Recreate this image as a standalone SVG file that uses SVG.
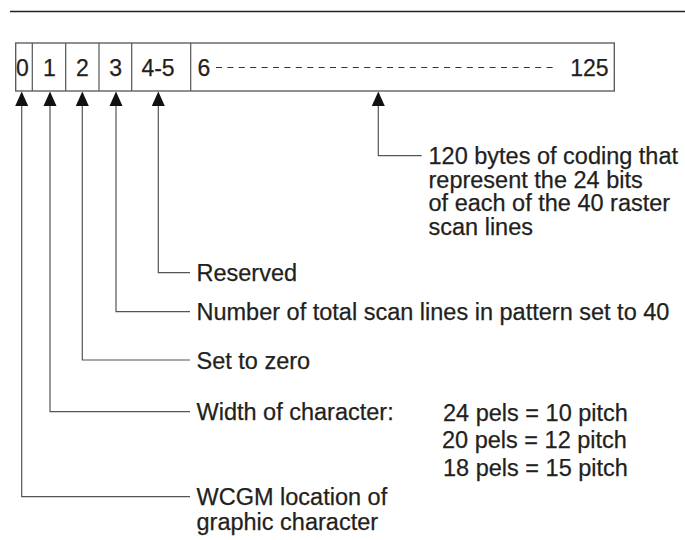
<svg xmlns="http://www.w3.org/2000/svg" width="685" height="540" viewBox="0 0 685 540">
<defs>
<style>
.t{font-family:"Liberation Sans",Arial,Helvetica,sans-serif;font-size:23.5px;fill:#231f20;stroke:#231f20;stroke-width:0.25}
.b{font-family:"Liberation Sans",Arial,Helvetica,sans-serif;font-size:23px;fill:#231f20;stroke:#231f20;stroke-width:0.25}
.c{fill:none;stroke:#555;stroke-width:1.2}
.box{fill:#fff;stroke:#555;stroke-width:1.3}
.ah{fill:#111}
</style>
</defs>
<rect width="685" height="540" fill="#fff"/>
<line x1="10" y1="11.5" x2="685" y2="11.5" stroke="#222" stroke-width="1.6"/>
<g id="record">
<rect class="box" x="15.7" y="43" width="598.6" height="48"/>
<line class="c" x1="32.3" y1="43" x2="32.3" y2="91"/>
<line class="c" x1="65.7" y1="43" x2="65.7" y2="91"/>
<line class="c" x1="99" y1="43" x2="99" y2="91"/>
<line class="c" x1="131.7" y1="43" x2="131.7" y2="91"/>
<line class="c" x1="190.7" y1="43" x2="190.7" y2="91"/>
<text class="b" x="22.5" y="75.5" text-anchor="middle">0</text>
<text class="b" x="49.3" y="75.5" text-anchor="middle">1</text>
<text class="b" x="82.3" y="75.5" text-anchor="middle">2</text>
<text class="b" x="115.7" y="75.5" text-anchor="middle">3</text>
<text class="b" x="158" y="75.5" text-anchor="middle">4-5</text>
<text class="b" x="197.5" y="75.5">6</text>
<line x1="216" y1="67.5" x2="557" y2="67.5" stroke="#333" stroke-width="1.2" stroke-dasharray="6,5.4"/>
<text class="b" x="608.5" y="75.5" text-anchor="end">125</text>
</g>
<g id="connectors">
<path class="c" d="M378.3,106 V155.7 H421.7"/>
<path class="c" d="M158.3,106 V272.7 H190"/>
<path class="c" d="M116,106 V311.7 H190"/>
<path class="c" d="M82.3,106 V360 H190"/>
<path class="c" d="M50,106 V411.7 H190"/>
<path class="c" d="M21.7,106 V496.7 H190"/>
<polygon class="ah" points="378.3,91.5 384.8,106 371.8,106"/>
<polygon class="ah" points="158.3,91.5 164.8,106 151.8,106"/>
<polygon class="ah" points="116,91.5 122.5,106 109.5,106"/>
<polygon class="ah" points="82.3,91.5 88.8,106 75.8,106"/>
<polygon class="ah" points="50,91.5 56.5,106 43.5,106"/>
<polygon class="ah" points="21.7,91.5 28.2,106 15.2,106"/>
</g>
<g id="label-coding">
<text class="t" x="428.5" y="164">120 bytes of coding that</text>
<text class="t" x="428.5" y="187.5">represent the 24 bits</text>
<text class="t" x="428.5" y="211">of each of the 40 raster</text>
<text class="t" x="428.5" y="234.5">scan lines</text>
</g>
<g id="label-reserved">
<text class="t" x="196.5" y="281">Reserved</text>
</g>
<g id="label-scanlines">
<text class="t" x="196.5" y="320">Number of total scan lines in pattern set to 40</text>
</g>
<g id="label-zero">
<text class="t" x="196.5" y="368.5">Set to zero</text>
</g>
<g id="label-width">
<text class="t" x="196.5" y="420">Width of character:</text>
<text class="t" x="443" y="420.5">24 pels = 10 pitch</text>
<text class="t" x="442" y="448">20 pels = 12 pitch</text>
<text class="t" x="443" y="475.5">18 pels = 15 pitch</text>
</g>
<g id="label-wcgm">
<text class="t" x="196.5" y="505">WCGM location of</text>
<text class="t" x="196.5" y="530">graphic character</text>
</g>
</svg>
